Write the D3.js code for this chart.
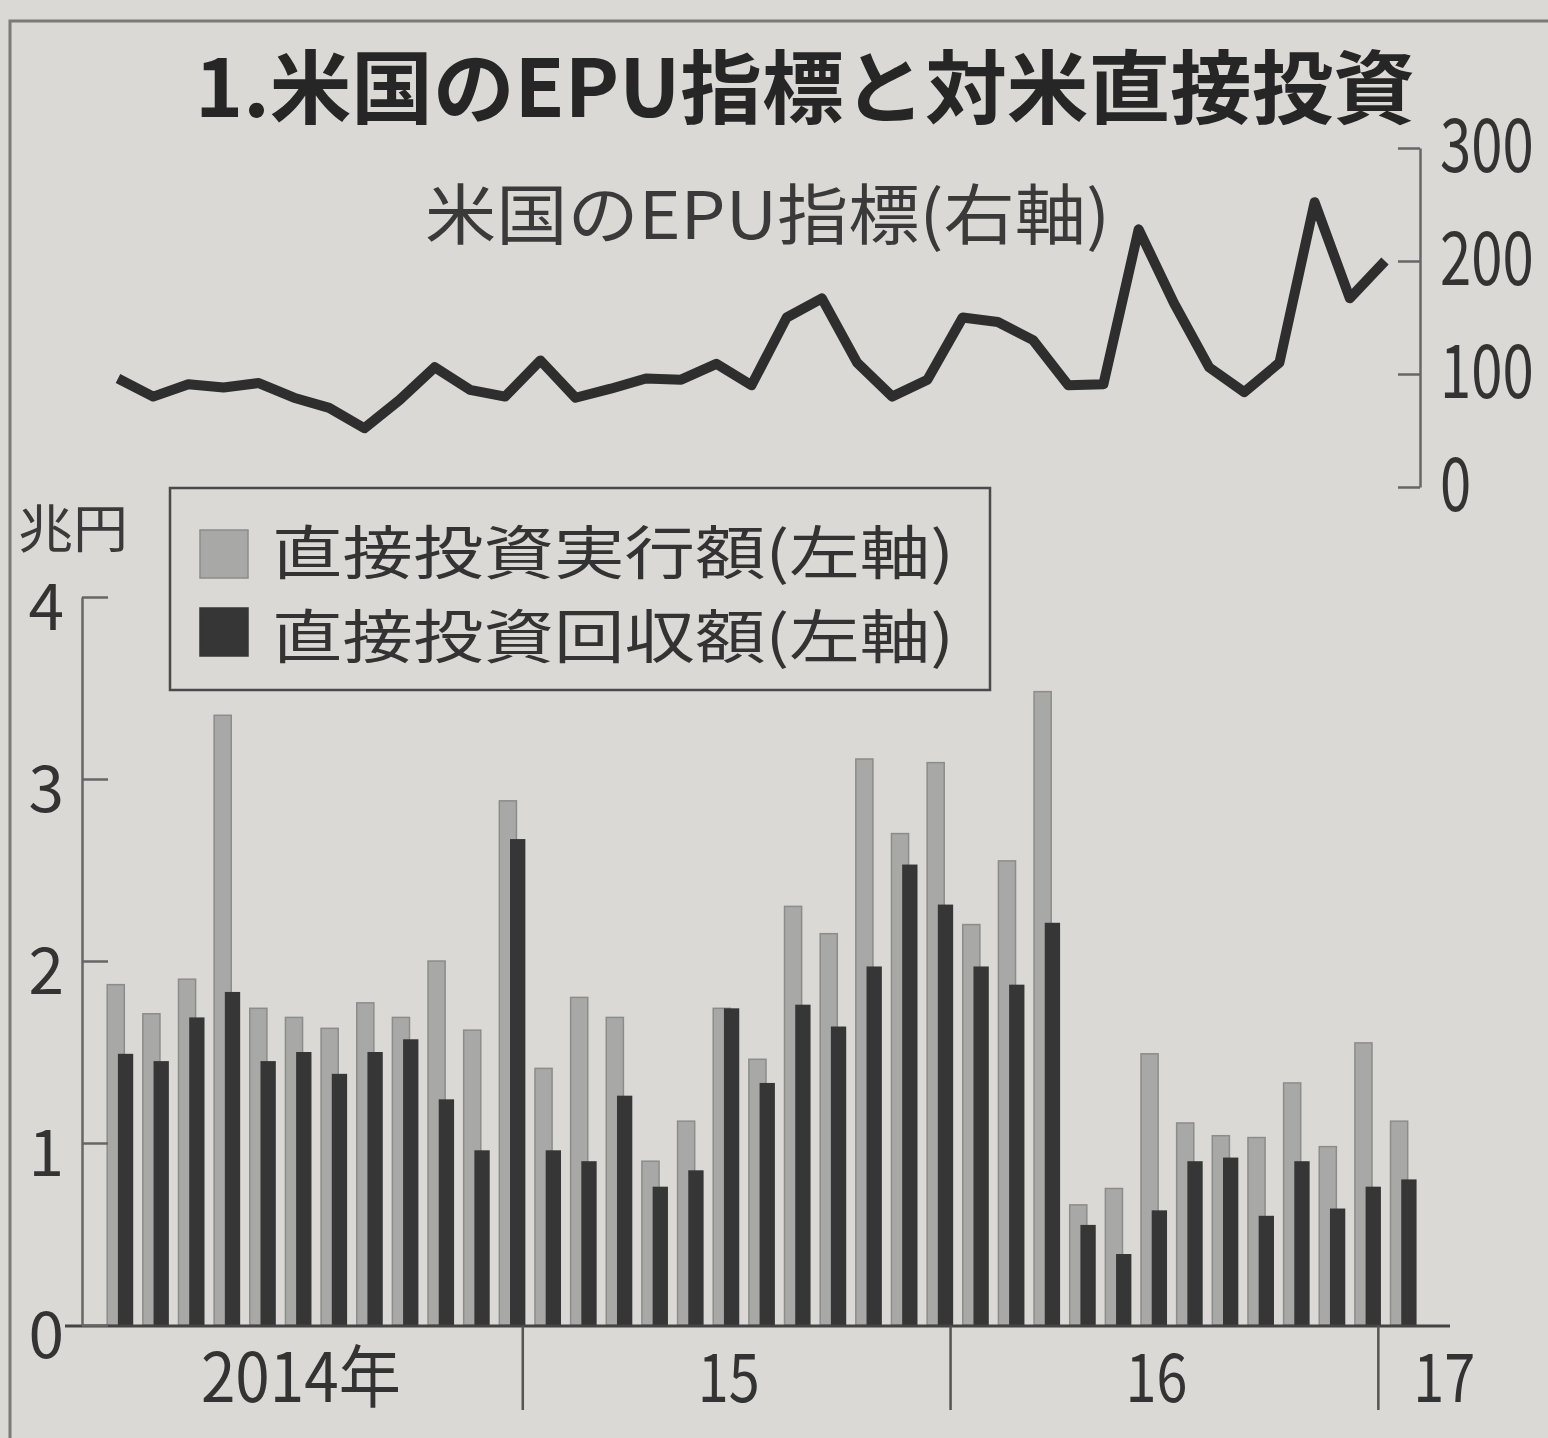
<!DOCTYPE html>
<html><head><meta charset="utf-8">
<script src="https://cdn.jsdelivr.net/npm/d3@7"></script>
<style>
html,body{margin:0;padding:0;background:#dad9d5;}
svg{display:block;}
text{font-family:"Noto Sans CJK JP","Noto Sans",sans-serif;}
</style></head><body>
<svg id="c" width="1548" height="1438"></svg>
<script>
// ---- data ----
const months = ["2014-01","2014-02","2014-03","2014-04","2014-05","2014-06","2014-07","2014-08","2014-09","2014-10","2014-11","2014-12",
  "2015-01","2015-02","2015-03","2015-04","2015-05","2015-06","2015-07","2015-08","2015-09","2015-10","2015-11","2015-12",
  "2016-01","2016-02","2016-03","2016-04","2016-05","2016-06","2016-07","2016-08","2016-09","2016-10","2016-11","2016-12",
  "2017-01"];
// 直接投資実行額 (兆円)
const execAmount = [1.87,1.71,1.90,3.35,1.74,1.69,1.63,1.77,1.69,2.00,1.62,2.88,
  1.41,1.80,1.69,0.90,1.12,1.74,1.46,2.30,2.15,3.11,2.70,3.09,
  2.20,2.55,3.48,0.66,0.75,1.49,1.11,1.04,1.03,1.33,0.98,1.55,
  1.12];
// 直接投資回収額 (兆円)
const recoveryAmount = [1.49,1.45,1.69,1.83,1.45,1.50,1.38,1.50,1.57,1.24,0.96,2.67,
  0.96,0.90,1.26,0.76,0.85,1.74,1.33,1.76,1.64,1.97,2.53,2.31,
  1.97,1.87,2.21,0.55,0.39,0.63,0.90,0.92,0.60,0.90,0.64,0.76,
  0.80];
// 米国のEPU指標
const epu = [96,80,91,88,92,79,70,52,77,106,86,80,
  112,79,87,96,95,109,90,150,167,110,80,95,
  150,146,130,90,91,228,163,106,84,110,252,167,
  200];
const leftTicks = [0,1,2,3,4];
const rightTicks = [0,100,200,300];
const yearStarts = ["2015-01","2016-01","2017-01"];
const yearLabels = [
  {text:"2014年", month:"2014-07"},
  {text:"15", month:"2015-07"},
  {text:"16", month:"2016-07"},
  {text:"17", month:"2017-01"}
];
const titleText = "1.米国のEPU指標と対米直接投資";
const lineLabel = "米国のEPU指標(右軸)";
const seriesNames = ["直接投資実行額(左軸)","直接投資回収額(左軸)"];
const unitLabel = "兆円";

// ---- drawing ----
const svg = d3.select("#c");
const ink = "#2e2e2e";

const x = d3.scaleBand(months, [99, 1418]).paddingInner(0).paddingOuter(0);
const xL = d3.scalePoint(months, [118, 1385]);
const y = d3.scaleLinear([0, 4], [1325, 597]);
const yR = d3.scaleLinear([0, 300], [487, 148]);
const bw = x.bandwidth();

// frame
svg.append("path").attr("d","M10,1438V21H1548").attr("fill","none")
  .attr("stroke","#7a7a78").attr("stroke-width",3);

// title
svg.append("text").attr("x",195).attr("y",117).attr("font-size",80).attr("font-weight",700)
  .attr("fill","#262626").attr("textLength",1220).attr("lengthAdjust","spacingAndGlyphs").text(titleText);

// line label
svg.append("text").attr("x",425).attr("y",239).attr("font-size",66)
  .attr("fill","#3a3a3a").attr("textLength",685).attr("lengthAdjust","spacingAndGlyphs").text(lineLabel);

// bars
const gBars = svg.append("g");
gBars.selectAll("rect.exec").data(execAmount).join("rect").attr("class","exec")
  .attr("x",(d,i)=>x(months[i]) + bw*0.23).attr("width",bw*0.48)
  .attr("y",d=>y(d)).attr("height",d=>y(0)-y(d))
  .attr("fill","#a8a8a6").attr("stroke","#8c8c8a").attr("stroke-width",1.5);
gBars.selectAll("rect.rec").data(recoveryAmount).join("rect").attr("class","rec")
  .attr("x",(d,i)=>x(months[i]) + bw*0.53).attr("width",bw*0.43)
  .attr("y",d=>y(d)).attr("height",d=>y(0)-y(d))
  .attr("fill","#363636");

// baseline
svg.append("line").attr("x1",65).attr("x2",1450).attr("y1",y(0)+1).attr("y2",y(0)+1)
  .attr("stroke","#444").attr("stroke-width",3);

// year dividers
svg.selectAll("line.div").data(yearStarts).join("line").attr("class","div")
  .attr("x1",d=>x(d)-4).attr("x2",d=>x(d)-4).attr("y1",y(0)+1).attr("y2",1410)
  .attr("stroke","#555").attr("stroke-width",2.5);

// year labels
svg.selectAll("text.yl").data(yearLabels).join("text").attr("class","yl")
  .attr("x",d=> d.month==="2017-01" ? x(d.month)+62 : x(d.month)-12)
  .attr("y",1402).attr("font-size",68).attr("fill","#333").attr("text-anchor","middle")
  .attr("textLength",d=> d.text.length>2 ? 200 : 62).attr("lengthAdjust","spacingAndGlyphs")
  .text(d=>d.text);

// left axis
const gL = svg.append("g").attr("transform","translate(82,0)")
  .call(d3.axisRight(y).tickValues(leftTicks).tickSize(26).tickSizeOuter(0).tickFormat(d3.format("d")));
gL.select(".domain").attr("stroke","#666").attr("stroke-width",2.5);
gL.selectAll(".tick line").attr("stroke","#666").attr("stroke-width",2.5);
gL.selectAll(".tick text").attr("x",-18).attr("dy","0.5em").attr("text-anchor","end").attr("font-size",64)
  .attr("fill","#333").attr("font-family",'"Liberation Sans",Arial,sans-serif');

// unit label
svg.append("text").attr("x",18).attr("y",548).attr("font-size",52).attr("fill","#3a3a3a")
  .attr("textLength",110).attr("lengthAdjust","spacingAndGlyphs").text(unitLabel);

// right axis
const gR = svg.append("g").attr("transform","translate(1420,0)")
  .call(d3.axisLeft(yR).tickValues(rightTicks).tickSize(22).tickSizeOuter(0).tickFormat(d3.format("d")));
gR.select(".domain").attr("stroke","#666").attr("stroke-width",2.5);
gR.selectAll(".tick line").attr("stroke","#666").attr("stroke-width",2.5);
gR.selectAll(".tick text").attr("x",0).attr("text-anchor","start").attr("font-size",74)
  .attr("fill","#333").attr("font-family",'"Noto Sans CJK JP",sans-serif')
  .attr("transform","translate(20,0) scale(0.76,1)");

// EPU line
svg.append("path").datum(epu)
  .attr("d", d3.line().x((d,i)=>xL(months[i])).y(d=>yR(d)))
  .attr("fill","none").attr("stroke",ink).attr("stroke-width",10)
  .attr("stroke-linejoin","round").attr("stroke-linecap","butt");

// legend
const gLeg = svg.append("g");
gLeg.append("rect").attr("x",170).attr("y",488).attr("width",820).attr("height",202)
  .attr("fill","none").attr("stroke","#4a4a4a").attr("stroke-width",2.5);
const legColors = [["#a8a8a6","#8c8c8a"],["#363636","#363636"]];
seriesNames.forEach((name,i)=>{
  gLeg.append("rect").attr("x",200).attr("y",530 + i*78).attr("width",48).attr("height",48)
    .attr("fill",legColors[i][0]).attr("stroke",legColors[i][1]).attr("stroke-width",1.5);
  gLeg.append("text").attr("x",272).attr("y",574 + i*84).attr("font-size",58).attr("fill","#333")
    .attr("textLength",682).attr("lengthAdjust","spacingAndGlyphs").text(name);
});
</script>
</body></html>
